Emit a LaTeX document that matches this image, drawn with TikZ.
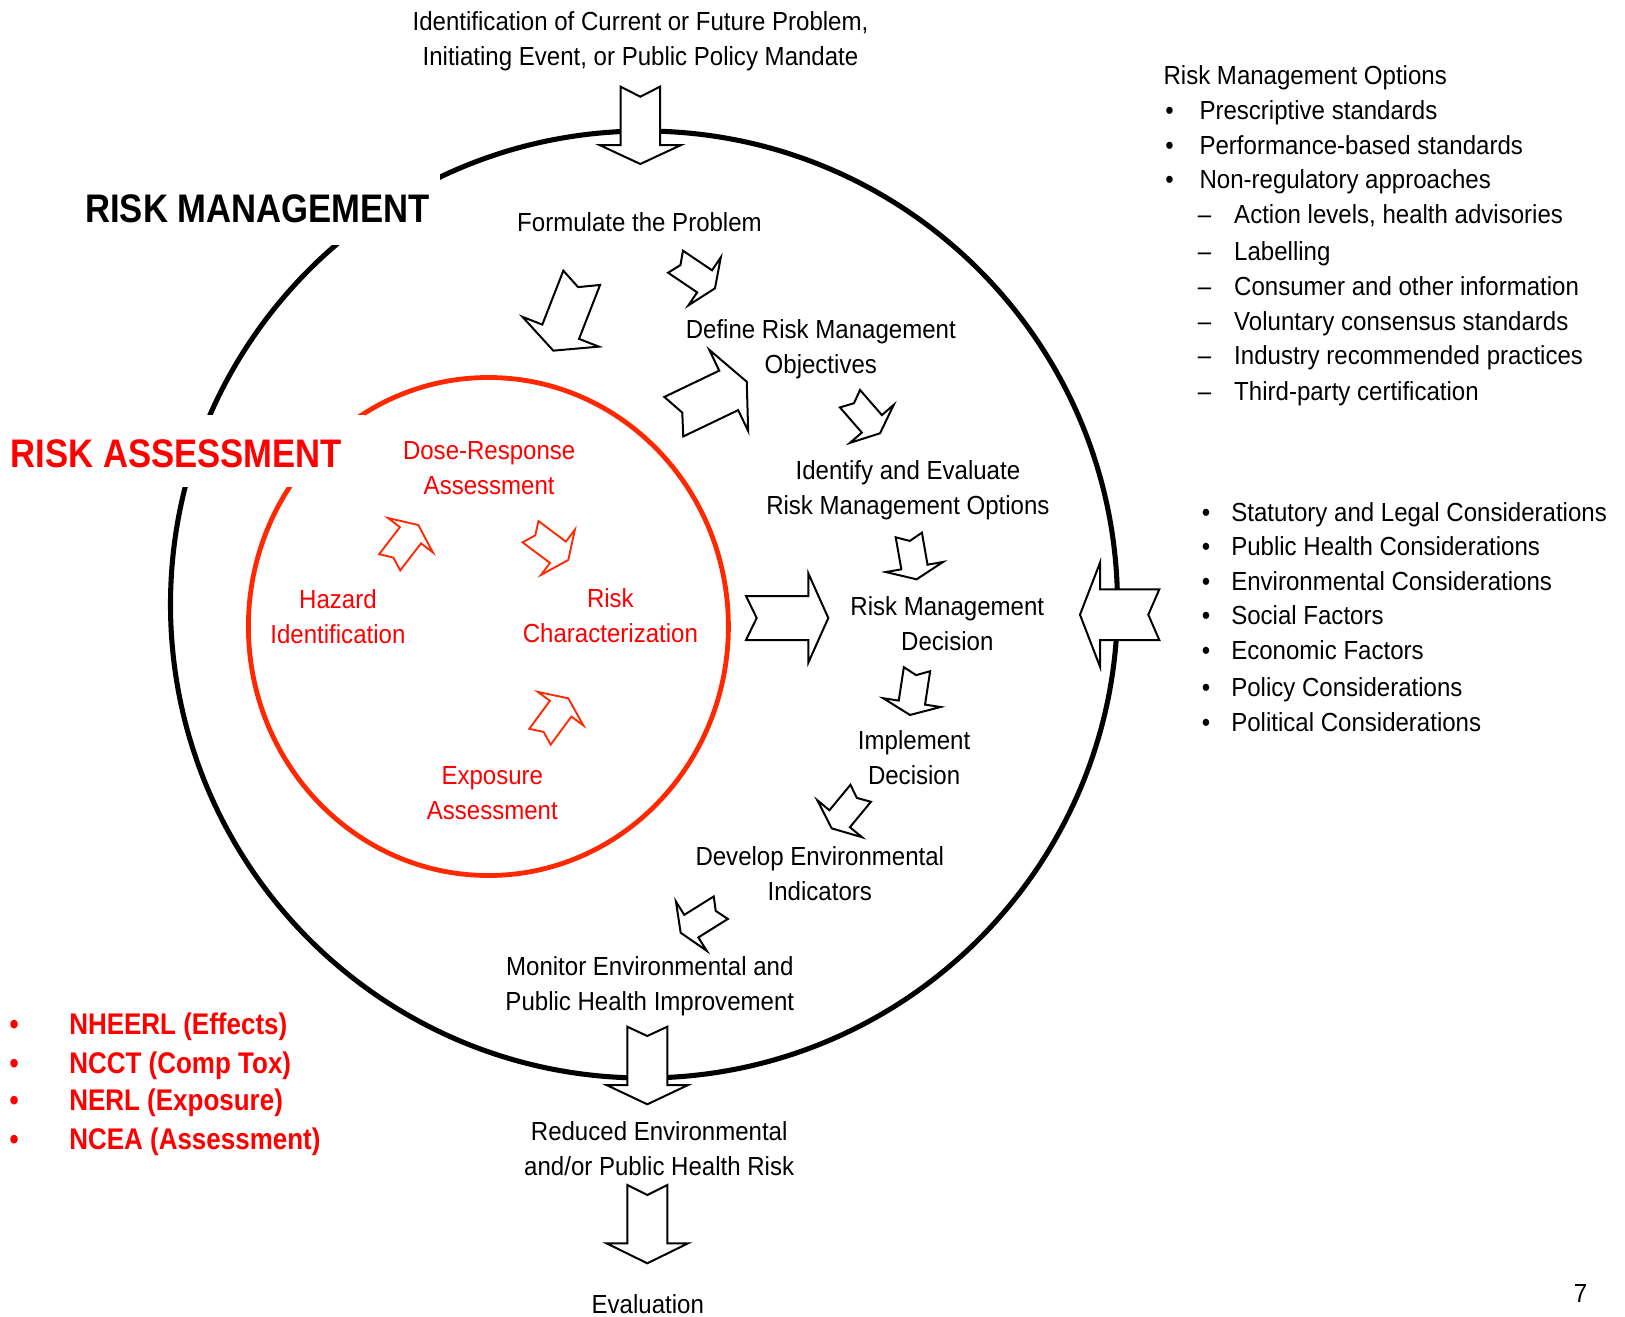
\documentclass[tikz,border=0pt]{standalone}
\usepackage{fontspec}
\setmainfont{Liberation Sans}[FakeStretch=0.92]
\newfontfamily\boldnarrow{Liberation Sans}[FakeStretch=0.87]
\definecolor{rcirc}{RGB}{255,40,0}
\definecolor{rtext}{RGB}{255,0,0}
% #1 style, #2 tail centre, #3 visual angle, #4 length, #5 shaft half-width,
% #6 head half-width, #7 head length, #8 notch depth
\newcommand{\blockarrow}[8][]{%
  \draw[#1, shift={(#2)}, rotate=#3]
    (0,#5) -- ({#4-#7},#5) -- ({#4-#7},#6) -- (#4,0) -- ({#4-#7},-#6)
    -- ({#4-#7},-#5) -- (0,-#5) -- (#8,0) -- cycle;}
\tikzset{
  lbl/.style={font=\fontsize{19.6}{26.25}\selectfont, align=center, inner sep=0pt,
    execute at begin node=\strut, execute at end node=\strut},
  redlbl/.style={lbl, text=rtext},
  biglbl/.style={font=\boldnarrow\bfseries\fontsize{29.9}{36}\selectfont, inner sep=0pt,
    anchor=west, execute at begin node=\strut},
  redlist/.style={font=\boldnarrow\bfseries\fontsize{22.4}{27}\selectfont, inner sep=0pt,
    anchor=west, text=rtext, execute at begin node=\strut},
  item/.style={lbl, anchor=west},
  barw/.style={draw=black, fill=white, line width=1.5pt, line join=miter},
  barr/.style={draw=rcirc, fill=white, line width=1.4pt, line join=miter},
}
\begin{document}
\begin{tikzpicture}[x=0.75pt, y=-0.75pt]
\useasboundingbox (0,0) rectangle (1625,1317);
\fill[white] (0,0) rectangle (1625,1317);

% circles
\draw[line width=3.8pt] (644,604.5) circle [radius=473.5];
\draw[rcirc, line width=3.6pt] (488.4,626.5) ellipse [x radius=240, y radius=249];

% white masks behind the two titles
\fill[white] (70,160) rectangle (440,245);
\fill[white] (0,415) rectangle (365,487);

% black block arrows
\blockarrow[barw]{640.3,86.7}{-90}{77.3}{19.7}{40.8}{19}{10}
\blockarrow[barw]{647.3,1026.7}{-90}{77.6}{20}{40.8}{19.3}{9.3}
\blockarrow[barw]{647.3,1185}{-90}{78.3}{20}{40.8}{20}{10}
\blockarrow[barw]{746,618}{0}{82.3}{22}{44.7}{20}{10.7}
\blockarrow[barw]{1159.3,614.7}{180}{79.3}{25.3}{52}{20}{11}
\blockarrow[barw]{581.7,277.8}{-111.3}{78.2}{19.7}{41}{20.3}{10}
\blockarrow[barw]{673.8,416.7}{25.6}{80.9}{21.9}{45}{20}{9.4}
\blockarrow[barw]{675.5,261.7}{-34}{47.6}{13.3}{29}{12.5}{6}
\blockarrow[barw]{850,398.7}{-49}{45.8}{13.3}{29}{12.5}{6}
\blockarrow[barw]{908.8,535}{-80}{45}{13.3}{29}{12.5}{6}
\blockarrow[barw]{917,669.2}{-98.7}{46.3}{13.3}{29}{12.5}{6}
\blockarrow[barw]{860.7,793.3}{-129.6}{45.5}{13.3}{29}{12.5}{6}
\blockarrow[barw]{720.8,907.7}{-148}{47.3}{13.3}{29}{12.5}{6}
% red block arrows
\blockarrow[barr]{389.7,562.3}{52.5}{47}{13.3}{28.3}{12.9}{6}
\blockarrow[barr]{530.5,531.7}{-36.8}{47.2}{13.3}{28.3}{12.9}{6}
\blockarrow[barr]{540,736.7}{53.6}{47.7}{13.3}{28.3}{12.9}{6}

% main cycle texts
\node[lbl] (ident) at (640.5,43.6) {Identification of Current or Future Problem,\\Initiating Event, or Public Policy Mandate};
\node[lbl] (formulate) at (639.5,224.5) {Formulate the Problem};
\node[lbl] (define) at (820.8,352) {Define Risk Management\\Objectives};
\node[lbl] (identify) at (907.9,493) {Identify and Evaluate\\Risk Management Options};
\node[lbl] (decision) at (947.3,628.7) {Risk Management\\Decision};
\node[lbl] (implement) at (914.1,762.4) {Implement\\Decision};
\node[lbl] (develop) at (819.8,878.5) {Develop Environmental\\Indicators};
\node[lbl] (monitor) at (649.8,988.8) {Monitor Environmental and\\Public Health Improvement};
\node[lbl] (reduced) at (659.2,1154.2) {Reduced Environmental\\and/or Public Health Risk};
\node[lbl] (evaluation) at (647.8,1306) {Evaluation};
\node[lbl] (pagenum) at (1580.5,1295.7) {7};

% risk assessment texts
\node[redlbl] (dose) at (489.2,473.2) {Dose-Response\\Assessment};
\node[redlbl] (hazard) at (337.9,622) {Hazard\\Identification};
\node[redlbl] (riskchar) at (610.4,620.9) {Risk\\Characterization};
\node[redlbl] (exposure) at (492.3,798.1) {Exposure\\Assessment};

% titles
\node[biglbl] (rm) at (85,213) {RISK MANAGEMENT};
\node[biglbl, text=rtext] (ra) at (10.4,457.6) {RISK ASSESSMENT};

% risk management options
\node[item] (rmo) at (1163.3,77.5) {Risk Management Options};
\node[item] (o1) at (1165,112.2) {\makebox[25.7pt][l]{•}Prescriptive standards};
\node[item] (o2) at (1165,147.4) {\makebox[25.7pt][l]{•}Performance-based standards};
\node[item] (o3) at (1165,181.6) {\makebox[25.7pt][l]{•}Non-regulatory approaches};
\node[item] (s1) at (1197.7,216.8) {\makebox[27.2pt][l]{–}Action levels, health advisories};
\node[item] (s2) at (1197.7,253.1) {\makebox[27.2pt][l]{–}Labelling};
\node[item] (s3) at (1197.7,288.3) {\makebox[27.2pt][l]{–}Consumer and other information};
\node[item] (s4) at (1197.7,323.6) {\makebox[27.2pt][l]{–}Voluntary consensus standards};
\node[item] (s5) at (1197.7,357.8) {\makebox[27.2pt][l]{–}Industry recommended practices};
\node[item] (s6) at (1197.7,393) {\makebox[27.2pt][l]{–}Third-party certification};

% considerations
\node[item] (c1) at (1201.7,514.3) {\makebox[22pt][l]{•}Statutory and Legal Considerations};
\node[item] (c2) at (1201.7,548.5) {\makebox[22pt][l]{•}Public Health Considerations};
\node[item] (c3) at (1201.7,583.7) {\makebox[22pt][l]{•}Environmental Considerations};
\node[item] (c4) at (1201.7,617.9) {\makebox[22pt][l]{•}Social Factors};
\node[item] (c5) at (1201.7,652.1) {\makebox[22pt][l]{•}Economic Factors};
\node[item] (c6) at (1201.7,689.4) {\makebox[22pt][l]{•}Policy Considerations};
\node[item] (c7) at (1201.7,724.7) {\makebox[22pt][l]{•}Political Considerations};

% labs
\node[redlist] (n1) at (9.3,1027.5) {\makebox[44.8pt][l]{•}NHEERL (Effects)};
\node[redlist] (n2) at (9.3,1066) {\makebox[44.8pt][l]{•}NCCT (Comp Tox)};
\node[redlist] (n3) at (9.3,1103.5) {\makebox[44.8pt][l]{•}NERL (Exposure)};
\node[redlist] (n4) at (9.3,1142.5) {\makebox[44.8pt][l]{•}NCEA (Assessment)};
\end{tikzpicture}
\end{document}
